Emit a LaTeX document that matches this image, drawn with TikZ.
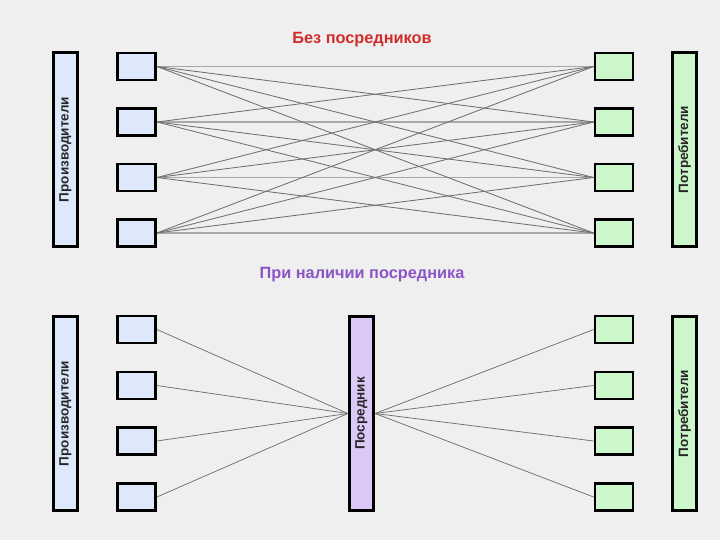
\documentclass[tikz,border=0pt]{standalone}
\usepackage{fontspec}
\setmainfont{Liberation Sans}
\definecolor{bg}{HTML}{EFEFEF}
\definecolor{pblue}{HTML}{DDE9FA}
\definecolor{pgreen}{HTML}{CCF7CA}
\definecolor{ppurple}{HTML}{DCC8F7}
\definecolor{tred}{HTML}{D02C2C}
\definecolor{tpurple}{HTML}{8A55C6}
\definecolor{lgray}{HTML}{707070}
\definecolor{hgray}{HTML}{A8A8A8}
\begin{document}
\begin{tikzpicture}[x=1pt,y=-1pt,
  box/.style={draw=black,line width=2.8pt,rectangle,inner sep=0pt,minimum width=38pt,minimum height=27pt},
  tall/.style={draw=black,line width=2.8pt,rectangle,inner sep=0pt,minimum width=24.5pt,minimum height=194pt},
  bluebox/.style={box,fill=pblue},
  greenbox/.style={box,fill=pgreen},
  lbl/.style={rotate=90,font=\bfseries\fontsize{13.5}{15}\selectfont,text=black!85},
  link/.style={draw=lgray,line width=0.85pt},
  hlink/.style={draw=hgray,line width=1.6pt},
  title/.style={font=\bfseries\fontsize{16.3}{19}\selectfont}
]
\fill[bg] (0,0) rectangle (720,540);
\useasboundingbox (0,0) rectangle (720,540);

% ---------- top section ----------
\node[title,text=tred] (T1) at (362,40) {Без посредников};

\node[tall,fill=pblue] (P1) at (65.5,149.5) {};
\node[lbl] (P1t) at (P1.center) {Производители};
\node[tall,fill=pgreen] (C1) at (684.5,149.5) {};
\node[lbl] (C1t) at (C1.center) {Потребители};

\foreach \i/\y in {1/66.5,2/122,3/177.5,4/233}{
  \node[bluebox] (L\i) at (136.5,\y) {};
  \node[greenbox] (R\i) at (614,\y) {};
}
\foreach \i in {1,...,4}{
  \draw[hlink] (L\i.east) -- (R\i.west);
}
\foreach \i in {1,...,4}{
  \foreach \j in {1,...,4}{
    \ifnum\i=\j\else
      \draw[link] (L\i.east) -- (R\j.west);
    \fi
  }
}

% ---------- bottom section ----------
\node[title,text=tpurple] (T2) at (362,275) {При наличии посредника};

\node[tall,fill=pblue] (P2) at (65.5,413.5) {};
\node[lbl] (P2t) at (P2.center) {Производители};
\node[tall,fill=pgreen] (C2) at (684.5,413.5) {};
\node[lbl] (C2t) at (C2.center) {Потребители};
\node[tall,fill=ppurple] (M) at (361.5,413.5) {};
\node[lbl] (Mt) at (M.center) {Посредник};

\foreach \i/\y in {1/329.5,2/385.5,3/441,4/497}{
  \node[bluebox] (BL\i) at (136.5,\y) {};
  \node[greenbox] (BR\i) at (614,\y) {};
}
\foreach \i in {1,...,4}{
  \draw[link,line width=0.75pt] (BL\i.east) -- (M.west);
  \draw[link,line width=0.75pt] (M.east) -- (BR\i.west);
}
\end{tikzpicture}
\end{document}
